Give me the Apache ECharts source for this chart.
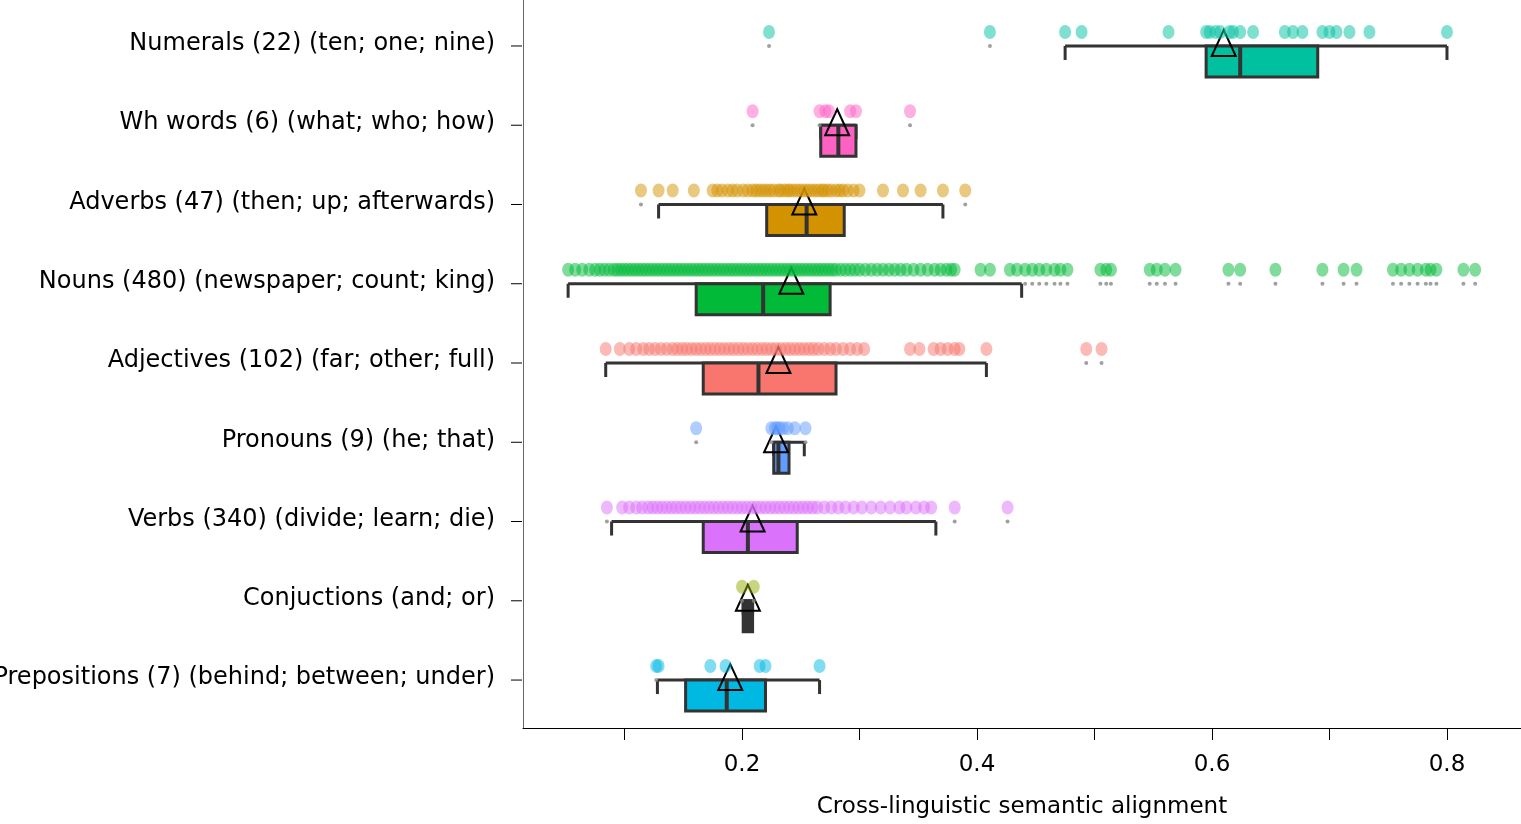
<!DOCTYPE html>
<html>
<head>
<meta charset="utf-8">
<title>Semantic alignment</title>
<script src="https://cdn.jsdelivr.net/npm/echarts@6/dist/echarts.min.js"></script>
<style>
  html, body { margin: 0; padding: 0; background: #fff; }
  #main { width: 1521px; height: 824px; }
</style>
</head>
<body>
<div id="main"></div>
<script>
// row labels, top to bottom
var categories = [
  'Numerals (22) (ten; one; nine)',
  'Wh words (6) (what; who; how)',
  'Adverbs (47) (then; up; afterwards)',
  'Nouns (480) (newspaper; count; king)',
  'Adjectives (102) (far; other; full)',
  'Pronouns (9) (he; that)',
  'Verbs (340) (divide; learn; die)',
  'Conjuctions (and; or)',
  'Prepositions (7) (behind; between; under)'
];
var colors = ['#00C19F', '#FF61C3', '#D39200', '#00BA38', '#F8766D', '#619CFF', '#DB72FB', '#93AA00', '#00B9E3'];

// box stats per row: [lowWhisker, q1, median, q3, highWhisker, mean]
var boxStats = [
  [0.475, 0.595, 0.624, 0.690, 0.800, 0.610],
  [0.267, 0.267, 0.282, 0.297, 0.297, 0.281],
  [0.129, 0.221, 0.255, 0.287, 0.371, 0.253],
  [0.052, 0.161, 0.218, 0.275, 0.438, 0.242],
  [0.084, 0.167, 0.214, 0.280, 0.408, 0.231],
  [0.227, 0.227, 0.231, 0.240, 0.253, 0.229],
  [0.089, 0.167, 0.205, 0.247, 0.365, 0.209],
  [0.201, 0.201, 0.205, 0.209, 0.209, 0.205],
  [0.128, 0.152, 0.187, 0.220, 0.266, 0.190]
];

// observed values per row
var numerals = [0.223, 0.411, 0.475, 0.489, 0.563, 0.595, 0.598, 0.603, 0.607, 0.615, 0.618, 0.624, 0.635, 0.662, 0.669, 0.677, 0.694, 0.700, 0.706, 0.717, 0.734, 0.800];
var whWords = [0.209, 0.266, 0.271, 0.274, 0.292, 0.297, 0.343];
var adverbs = [0.114, 0.129, 0.141, 0.159, 0.175, 0.179, 0.183, 0.188, 0.192, 0.196, 0.201, 0.205, 0.209, 0.212, 0.215, 0.218, 0.221, 0.224, 0.227, 0.231, 0.233, 0.236, 0.239, 0.241, 0.244, 0.247, 0.250, 0.253, 0.256, 0.259, 0.262, 0.265, 0.268, 0.270, 0.273, 0.276, 0.280, 0.283, 0.286, 0.290, 0.295, 0.300, 0.320, 0.337, 0.352, 0.371, 0.390];
var nouns = [0.052, 0.058, 0.064, 0.070, 0.075, 0.079, 0.083, 0.087, 0.091, 0.094, 0.097, 0.100, 0.103, 0.106, 0.109, 0.112, 0.115, 0.118, 0.121, 0.124, 0.127, 0.130, 0.133, 0.136, 0.139, 0.142, 0.145, 0.148, 0.151, 0.154, 0.157, 0.160, 0.163, 0.166, 0.169, 0.172, 0.175, 0.178, 0.181, 0.184, 0.187, 0.190, 0.193, 0.196, 0.199, 0.202, 0.205, 0.208, 0.211, 0.214, 0.217, 0.220, 0.223, 0.226, 0.229, 0.232, 0.235, 0.238, 0.241, 0.244, 0.247, 0.250, 0.253, 0.256, 0.259, 0.262, 0.265, 0.268, 0.271, 0.274, 0.277, 0.280, 0.284, 0.288, 0.292, 0.296, 0.300, 0.305, 0.310, 0.315, 0.320, 0.325, 0.330, 0.335, 0.340, 0.346, 0.352, 0.358, 0.364, 0.369, 0.374, 0.378, 0.381, 0.403, 0.411, 0.428, 0.434, 0.441, 0.447, 0.453, 0.459, 0.466, 0.471, 0.477, 0.505, 0.510, 0.514, 0.547, 0.553, 0.560, 0.569, 0.614, 0.624, 0.654, 0.694, 0.712, 0.723, 0.754, 0.761, 0.768, 0.775, 0.782, 0.786, 0.791, 0.814, 0.824];
var adjectives = [0.084, 0.096, 0.104, 0.110, 0.116, 0.121, 0.126, 0.131, 0.136, 0.141, 0.145, 0.149, 0.153, 0.157, 0.161, 0.165, 0.169, 0.173, 0.177, 0.181, 0.185, 0.189, 0.193, 0.197, 0.201, 0.205, 0.209, 0.213, 0.217, 0.221, 0.225, 0.229, 0.233, 0.237, 0.241, 0.245, 0.249, 0.253, 0.257, 0.261, 0.265, 0.270, 0.275, 0.280, 0.286, 0.292, 0.298, 0.304, 0.343, 0.351, 0.363, 0.369, 0.375, 0.381, 0.385, 0.408, 0.493, 0.506];
var pronouns = [0.161, 0.225, 0.228, 0.230, 0.232, 0.235, 0.239, 0.245, 0.254];
var verbs = [0.085, 0.098, 0.104, 0.110, 0.115, 0.120, 0.124, 0.128, 0.132, 0.136, 0.140, 0.144, 0.148, 0.152, 0.156, 0.160, 0.164, 0.168, 0.172, 0.176, 0.180, 0.184, 0.188, 0.192, 0.196, 0.200, 0.204, 0.208, 0.212, 0.216, 0.220, 0.224, 0.228, 0.232, 0.236, 0.240, 0.244, 0.248, 0.252, 0.256, 0.260, 0.264, 0.270, 0.276, 0.282, 0.288, 0.295, 0.302, 0.310, 0.318, 0.326, 0.334, 0.340, 0.348, 0.355, 0.361, 0.381, 0.426];
var conjunctions = [0.200, 0.210];
var prepositions = [0.127, 0.129, 0.173, 0.186, 0.215, 0.220, 0.266];

var rows = [numerals, whWords, adverbs, nouns, adjectives, pronouns, verbs, conjunctions, prepositions];

var xTicks = [0.1, 0.2, 0.3, 0.4, 0.5, 0.6, 0.7, 0.8];
var xLabels = [0.2, 0.4, 0.6, 0.8];

var dotData = [], outlierData = [];
rows.forEach(function (vals, i) {
  vals.forEach(function (v) {
    dotData.push([v, i]);
    if (v < boxStats[i][0] - 1e-6 || v > boxStats[i][4] + 1e-6) outlierData.push([v, i]);
  });
});
var boxData = boxStats.map(function (s, i) { return [i].concat(s); });

var chart = echarts.init(document.getElementById('main'));
var FONT = '"DejaVu Sans", sans-serif';

chart.setOption({
  animation: false,
  grid: { left: 523, right: 0, top: 0, bottom: 96 },
  xAxis: {
    type: 'value', min: 0.0136, max: 0.863,
    name: 'Cross-linguistic semantic alignment', nameLocation: 'middle', nameGap: 68,
    nameTextStyle: { fontSize: 23, color: '#000', fontFamily: FONT },
    axisLine: { onZero: false, lineStyle: { color: '#000', width: 1 } },
    axisTick: { show: true, length: 12, customValues: xTicks, lineStyle: { color: '#000' } },
    axisLabel: { customValues: xLabels, fontSize: 23, color: '#000', fontFamily: FONT, margin: 26,
      formatter: function (v) { return v.toFixed(1); } },
    splitLine: { show: false }
  },
  yAxis: {
    type: 'value', inverse: true, min: -0.58, max: 8.605,
    axisLine: { show: true, onZero: false, lineStyle: { color: '#666' } },
    axisTick: { show: false }, axisLabel: { show: false }, splitLine: { show: false }
  },
  series: [
    {
      type: 'custom',
      clip: false,
      data: boxData,
      z: 2,
      renderItem: function (params, api) {
        var i = api.value(0);
        var p = function (v) { return api.coord([v, i]); };
        var lo = p(api.value(1)), q1 = p(api.value(2)), md = p(api.value(3)),
            q3 = p(api.value(4)), hi = p(api.value(5)), mn = p(api.value(6));
        var y = lo[1];
        var dark = '#333';
        var boxFill = i === 7 ? dark : colors[i];
        return {
          type: 'group',
          children: [
            { type: 'text', style: { x: 495, y: y - 2, text: categories[i], align: 'right', verticalAlign: 'middle',
                fontSize: 24, fontFamily: FONT, fill: '#000' } },
            { type: 'line', shape: { x1: 511, y1: y, x2: 522, y2: y }, style: { stroke: '#000', lineWidth: 1 } },
            { type: 'line', shape: { x1: lo[0], y1: y, x2: hi[0], y2: y }, style: { stroke: dark, lineWidth: 3 } },
            { type: 'line', shape: { x1: lo[0], y1: y, x2: lo[0], y2: y + 14 }, style: { stroke: dark, lineWidth: 3 } },
            { type: 'line', shape: { x1: hi[0], y1: y, x2: hi[0], y2: y + 14 }, style: { stroke: dark, lineWidth: 3 } },
            { type: 'rect', shape: { x: q1[0], y: y, width: Math.max(q3[0] - q1[0], 4), height: 31 },
              style: { fill: boxFill, stroke: dark, lineWidth: 3 } },
            { type: 'line', shape: { x1: md[0], y1: y, x2: md[0], y2: y + 31 }, style: { stroke: dark, lineWidth: 4 } },
            { type: 'polygon', z2: 10, shape: { points: [[mn[0], y - 16], [mn[0] - 12, y + 10], [mn[0] + 12, y + 10]] },
              style: { fill: 'none', stroke: '#000', lineWidth: 2 } }
          ]
        };
      }
    },
    {
      type: 'scatter',
      data: dotData,
      symbolSize: [12, 14],
      symbolOffset: [0, -14],
      z: 3,
      itemStyle: { opacity: 0.5, color: function (d) { return colors[d.value[1]]; } }
    },
    {
      type: 'scatter',
      data: outlierData,
      symbolSize: 4,
      z: 3,
      itemStyle: { color: '#888' }
    }
  ]
});
</script>
</body>
</html>
